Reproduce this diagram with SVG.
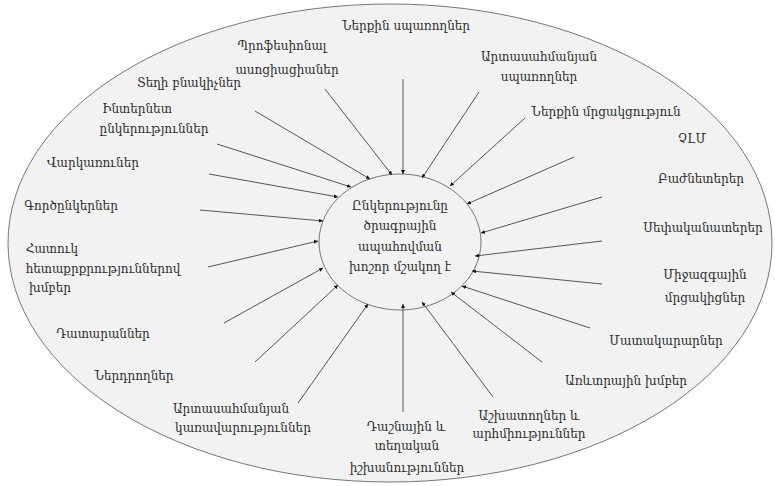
<svg xmlns="http://www.w3.org/2000/svg" width="775" height="486" viewBox="0 0 775 486">
  <style>
    .t { font-family: "DejaVu Serif", "Noto Sans", serif; font-size: 12px; fill: #2e2e2e; text-anchor: middle; }
    .c { stroke: #555; stroke-width: 1; fill: none; marker-end: url(#ah); }
  </style>
  <defs>
    <marker id="ah" viewBox="0 0 6 6" refX="6" refY="3" markerWidth="4" markerHeight="4" markerUnits="userSpaceOnUse" orient="auto">
      <path d="M0,0 L6,3 L0,6 Z" fill="#111"/>
    </marker>
  </defs>

  <!-- outer boundary -->
  <ellipse cx="390" cy="243" rx="382" ry="239" fill="#f2f2f2" stroke="#777" stroke-width="1"/>

  <!-- central company -->
  <g id="company">
    <ellipse cx="400" cy="242" rx="81" ry="68" fill="#f2f2f2" stroke="#777" stroke-width="1"/>
    <text class="t" x="400" y="210">Ընկերությունը</text>
    <text class="t" x="400" y="230">ծրագրային</text>
    <text class="t" x="400" y="251">ապահովման</text>
    <text class="t" x="400" y="271">խոշոր մշակող է</text>
  </g>

  <!-- stakeholder labels -->
  <g id="internal-consumers"><text class="t" x="406" y="30">Ներքին սպառողներ</text></g>
  <g id="professional-associations">
    <text class="t" x="282" y="50">Պրոֆեսիոնալ</text>
    <text class="t" x="287" y="74">ասոցիացիաներ</text>
  </g>
  <g id="local-residents"><text class="t" x="189" y="87">Տեղի բնակիչներ</text></g>
  <g id="internet-companies">
    <text class="t" x="137" y="113">Ինտերնետ</text>
    <text class="t" x="154" y="133">ընկերություններ</text>
  </g>
  <g id="creditors"><text class="t" x="93" y="167">Վարկառուներ</text></g>
  <g id="partners"><text class="t" x="71" y="210">Գործընկերներ</text></g>
  <g id="special-interest-groups">
    <text class="t" x="52" y="253">Հատուկ</text>
    <text class="t" x="103" y="273">հետաքրքրություններով</text>
    <text class="t" x="50" y="292">խմբեր</text>
  </g>
  <g id="courts"><text class="t" x="103" y="338">Դատարաններ</text></g>
  <g id="investors"><text class="t" x="134" y="380">Ներդրողներ</text></g>
  <g id="foreign-governments">
    <text class="t" x="231" y="413">Արտասահմանյան</text>
    <text class="t" x="243" y="432">կառավարություններ</text>
  </g>
  <g id="federal-local-authorities">
    <text class="t" x="406" y="431">Դաշնային և</text>
    <text class="t" x="407" y="450">տեղական</text>
    <text class="t" x="407" y="472">իշխանություններ</text>
  </g>
  <g id="employees-unions">
    <text class="t" x="529" y="420">Աշխատողներ և</text>
    <text class="t" x="529" y="438">արհմիություններ</text>
  </g>
  <g id="trade-groups"><text class="t" x="626" y="385">Առևտրային խմբեր</text></g>
  <g id="suppliers"><text class="t" x="666" y="345">Մատակարարներ</text></g>
  <g id="international-competitors">
    <text class="t" x="705" y="279">Միջազգային</text>
    <text class="t" x="705" y="302">մրցակիցներ</text>
  </g>
  <g id="owners"><text class="t" x="703" y="232">Սեփականատերեր</text></g>
  <g id="shareholders"><text class="t" x="701" y="183">Բաժնետերեր</text></g>
  <g id="media"><text class="t" x="692" y="143">ՉԼՄ</text></g>
  <g id="domestic-competition"><text class="t" x="606" y="116">Ներքին մրցակցություն</text></g>
  <g id="foreign-consumers">
    <text class="t" x="539" y="61">Արտասահմանյան</text>
    <text class="t" x="539" y="81">սպառողներ</text>
  </g>

  <!-- connectors pointing into the company -->
  <g id="connectors">
    <line class="c" x1="403" y1="79" x2="403" y2="174"/>
    <line class="c" x1="325" y1="89" x2="392" y2="175"/>
    <line class="c" x1="255" y1="111" x2="370" y2="179"/>
    <line class="c" x1="217" y1="144" x2="351" y2="187"/>
    <line class="c" x1="209" y1="174" x2="338" y2="197"/>
    <line class="c" x1="200" y1="210" x2="323" y2="221"/>
    <line class="c" x1="208" y1="267" x2="318" y2="241"/>
    <line class="c" x1="224" y1="323" x2="323" y2="268"/>
    <line class="c" x1="255" y1="362" x2="338" y2="285"/>
    <line class="c" x1="298" y1="403" x2="368" y2="304"/>
    <line class="c" x1="403" y1="412" x2="403" y2="304"/>
    <line class="c" x1="493" y1="397" x2="422" y2="302"/>
    <line class="c" x1="542" y1="362" x2="451" y2="292"/>
    <line class="c" x1="590" y1="328" x2="462" y2="286"/>
    <line class="c" x1="602" y1="284" x2="472" y2="271"/>
    <line class="c" x1="602" y1="241" x2="475" y2="256"/>
    <line class="c" x1="602" y1="197" x2="481" y2="233"/>
    <line class="c" x1="574" y1="157" x2="467" y2="204"/>
    <line class="c" x1="525" y1="118" x2="450" y2="186"/>
    <line class="c" x1="479" y1="92" x2="422" y2="178"/>
  </g>
</svg>
